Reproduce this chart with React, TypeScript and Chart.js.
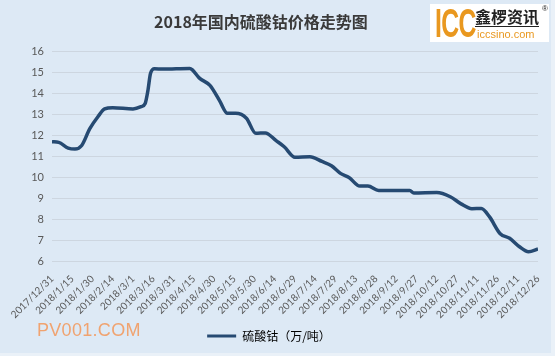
import React, { useEffect, useRef } from "react";
import { Chart, registerables } from "chart.js";

Chart.register(...registerables);

// ---- data ----
const tickLabels = [
  "2017/12/31", "2018/1/15", "2018/1/30", "2018/2/14", "2018/3/1", "2018/3/16",
  "2018/3/31", "2018/4/15", "2018/4/30", "2018/5/15", "2018/5/30", "2018/6/14",
  "2018/6/29", "2018/7/14", "2018/7/29", "2018/8/13", "2018/8/28", "2018/9/12",
  "2018/9/27", "2018/10/12", "2018/10/27", "2018/11/11", "2018/11/26", "2018/12/11",
  "2018/12/26",
];
// days since 2017/12/31
const days = [
  0, 5, 12, 17, 22, 28, 34, 39, 45, 60, 66, 69, 71, 73, 76, 82, 102, 104, 109, 117,
  124, 130, 136, 144, 151, 158, 166, 172, 180, 191, 200, 207, 214, 220, 228, 234,
  242, 265, 268, 285, 295, 303, 311, 318, 324, 332, 339, 346, 353, 360,
];
const prices = [
  11.68, 11.65, 11.38, 11.33, 11.5, 12.3, 12.87, 13.24, 13.3, 13.24, 13.35, 13.5, 14.1, 14.94, 15.15, 15.14, 15.17, 15.1, 14.72, 14.36,
  13.65, 13.03, 13.03, 12.8, 12.08, 12.1, 11.73, 11.44, 10.94, 10.97, 10.74, 10.54, 10.16, 9.98, 9.57, 9.57,
  9.36, 9.36, 9.24, 9.26, 9.06, 8.72, 8.49, 8.5, 8.11, 7.3, 7.08, 6.69, 6.44, 6.57,
];
const yMin = 6;
const yMax = 16;
const TITLE = "2018年国内硫酸钴价格走势图";
const SERIES = "硫酸钴（万/吨）";

const LINE = "#264a72";
const BG = "#dde9f5";
const TEXT = "#595959";
const ORANGE = "#e9981f";

export default function App() {
  const ref = useRef<HTMLCanvasElement>(null);

  useEffect(() => {
    document.body.style.margin = "0";
    const chart = new Chart(ref.current!, {
      type: "line",
      data: {
        datasets: [
          {
            label: SERIES,
            data: days.map((d, i) => ({ x: d, y: prices[i] })),
            borderColor: LINE,
            backgroundColor: LINE,
            borderWidth: 3.5,
            pointRadius: 0,
            cubicInterpolationMode: "monotone",
            fill: false,
          },
        ],
      },
      options: {
        responsive: false,
        animation: false,
        layout: { padding: { left: 0, right: 17, top: 51, bottom: 4 } },
        scales: {
          x: {
            type: "linear",
            min: 0,
            max: 360,
            afterBuildTicks: (s: any) => {
              s.ticks = tickLabels.map((_, i) => ({ value: i * 15 }));
            },
            afterFit: (s: any) => {
              s.height = 59;
            },
            ticks: {
              autoSkip: false,
              minRotation: 45,
              maxRotation: 45,
              padding: 4,
              color: TEXT,
              font: { family: "Lato", size: 10 },
              callback: (v: any) => tickLabels[Math.round(Number(v) / 15)] ?? "",
            },
            grid: { display: false },
            border: { display: false },
          },
          y: {
            min: yMin,
            max: yMax,
            afterFit: (s: any) => {
              s.width = 52;
            },
            ticks: {
              stepSize: 1,
              padding: 8,
              color: TEXT,
              font: { family: "Lato", size: 11 },
            },
            grid: { color: "#cdd6e0", drawTicks: false, lineWidth: 1 },
            border: { display: false },
          },
        },
        plugins: {
          title: { display: false },
          tooltip: { enabled: false },
          legend: {
            position: "bottom",
            labels: {
              boxWidth: 29,
              boxHeight: 3,
              color: TEXT,
              font: { family: "Noto Sans CJK SC", size: 12 },
              generateLabels: () => [
                {
                  text: SERIES,
                  fillStyle: LINE,
                  strokeStyle: LINE,
                  lineWidth: 0,
                  datasetIndex: 0,
                  hidden: false,
                } as any,
              ],
            },
          },
        },
      },
    } as any);
    return () => chart.destroy();
  }, []);

  return (
    <div
      style={{
        position: "fixed",
        left: 0,
        top: 0,
        width: 555,
        height: 356,
        background: BG,
        overflow: "hidden",
        boxSizing: "border-box",
        borderRight: "4px solid #eaf1f8",
        borderBottom: "3px solid #eaf1f8",
      }}
    >
      <canvas ref={ref} width={555} height={356} style={{ position: "absolute", left: 0, top: 0 }} />
      <div
        style={{
          position: "absolute",
          left: 0,
          top: 9,
          width: 522,
          textAlign: "center",
          fontFamily: "'Noto Sans CJK SC', sans-serif",
          fontWeight: 700,
          fontSize: 16,
          color: "#3a3a3a",
          lineHeight: "24px",
        }}
      >
        {TITLE}
      </div>
      <div
        style={{
          position: "absolute",
          left: 430,
          top: 4,
          width: 119,
          height: 38,
          background: "#ffffff",
          overflow: "hidden",
        }}
      >
        <div
          style={{
            position: "absolute",
            left: 5,
            top: 1,
            fontFamily: "'Liberation Sans', sans-serif",
            fontWeight: 700,
            fontSize: 40,
            lineHeight: "36px",
            letterSpacing: -1,
            color: ORANGE,
            transform: "scaleX(0.62)",
            transformOrigin: "left top",
            whiteSpace: "nowrap",
          }}
        >
          ICC
        </div>
        <div
          style={{
            position: "absolute",
            left: 45,
            top: 2,
            fontFamily: "'Noto Sans CJK SC', sans-serif",
            fontWeight: 700,
            fontSize: 16,
            lineHeight: "20px",
            color: "#222",
            borderBottom: "1px solid #222",
            whiteSpace: "nowrap",
          }}
        >
          鑫椤资讯
        </div>
        <div
          style={{
            position: "absolute",
            left: 112,
            top: 0,
            fontFamily: "'Liberation Sans', sans-serif",
            fontSize: 8,
            lineHeight: "10px",
            color: "#222",
          }}
        >
          ®
        </div>
        <div
          style={{
            position: "absolute",
            left: 47,
            top: 24,
            fontFamily: "'Liberation Sans', sans-serif",
            fontSize: 11,
            lineHeight: "13px",
            color: ORANGE,
            whiteSpace: "nowrap",
          }}
        >
          iccsino.com
        </div>
      </div>
      <div
        style={{
          position: "absolute",
          left: 37,
          top: 319,
          fontFamily: "'Liberation Sans', sans-serif",
          fontSize: 18,
          lineHeight: "22px",
          color: "#f0a370",
          letterSpacing: 0.3,
        }}
      >
        PV001.COM
      </div>
    </div>
  );
}
